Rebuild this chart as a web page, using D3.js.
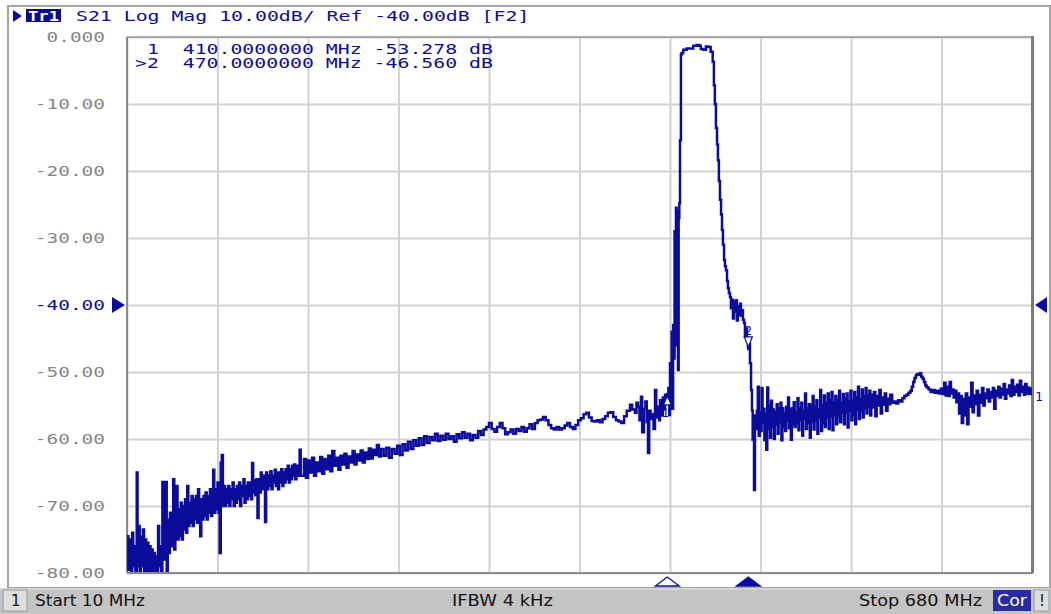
<!DOCTYPE html>
<html>
<head>
<meta charset="utf-8">
<title>S21 Log Mag</title>
<script src="https://d3js.org/d3.v7.min.js"></script>
<style>
  body { margin: 0; background: #fff; }
  svg { display: block; }
</style>
</head>
<body>
<script>
// analyzer screen: S21 sweep 10..680 MHz, values
const startMHz = 10;
const stopMHz = 680;
const xDivisions = [10, 77, 144, 211, 278, 345, 412, 479, 546, 613, 680];
const yTicks = [0, -10, -20, -30, -40, -50, -60, -70, -80];
const yTickLabels = ['0.000', '-10.00', '-20.00', '-30.00', '-40.00', '-50.00', '-60.00', '-70.00', '-80.00'];
const refLevel = -40;
const headerText = 'S21 Log Mag 10.00dB/ Ref -40.00dB [F2]';
const statusTexts = ['Start 10 MHz', 'IFBW 4 kHz', 'Stop 680 MHz'];

const markerIds = [1, 2];
const markerMHz = [410, 470];
const markerDb = [-53.278, -46.560];
const activeMarker = 2;

// [MHz, dB]
const sweepLow = [
  [10,-74.5],[11,-79.5],[12,-75],[13,-80.5],[13.8,-74],[14.6,-79],[15.4,-76],[16.2,-80.5],[17.2,-65],[17.8,-79],
  [18.6,-73],[19.4,-80.5],[20.2,-74.5],[21,-79],[21.8,-73.5],[22.6,-80.5],[23.4,-75],[24.2,-80.5],[25,-75.5],[25.8,-80.5],
  [26.6,-76],[27.4,-80.5],[28.2,-76.5],[29,-80.5],[29.8,-77],[30.6,-80.5],[31.4,-77.5],[32.2,-80.5],[33,-73],[33.8,-79],
  [34.6,-76],[35.4,-80.5],[36.2,-66.4],[37,-78],[37.8,-74],[38.6,-66.4],[39.4,-80.5],[40.2,-72],[41,-77],[41.8,-71],
  [42.6,-76],[43.4,-72],[44.2,-66],[45,-76.5],[45.8,-71],[46.6,-67],[47.4,-75],[48.2,-70.5],[49,-74.5],[49.8,-69.5],
  [50.6,-75],[51.4,-70],[52.2,-73.5],[53,-69],[53.8,-74],[54.6,-67],[55.4,-73],[56.2,-69.5],[57,-72.5],[57.8,-68.5],
  [58.6,-73],[59.4,-69],[60.2,-72],[61,-68.5],[61.8,-72.5],[62.6,-67.5],[63.4,-71.5],[64.2,-74.5],[65,-69],[65.8,-72],
  [66.6,-68.5],[67.4,-71.5],[68.2,-68],[69,-72],[69.8,-68.5],[70.6,-71],[71.4,-67.5],[72.2,-71.5],[73,-68],[73.8,-64.6],
  [74.6,-71],[75.4,-67.5],[76.2,-70.5],[77,-66.5],[77.8,-71],[78.6,-77],[79.4,-63.5],[80.2,-62.4],[81,-70],[81.8,-67],
  [82.6,-70],[83.4,-67.5],[84.2,-69.5],[85,-67],[85.8,-70],[86.6,-67.5],[87.4,-69],[88.2,-66.5],[89,-70],[89.8,-67.5],
  [90.6,-69.5],[91.4,-67],[92.2,-69],[93,-66.5],[93.8,-70],[94.6,-67],[95.4,-68.5],[96.2,-66],[97,-69.5],[97.8,-67],
  [98.6,-69],[99.4,-66.5],[100.2,-68.5],[101,-66.5],[101.8,-69],[102.6,-63.6],[103.4,-68],[104.2,-66.2],[105,-68.4],[105.8,-66],
  [106.6,-71.8],[107.4,-66],[108.2,-68],[109,-65],[109.8,-67.5],[110.6,-65.5],[111.4,-67],[112.2,-72.4],[113,-65],[113.8,-67.5],
  [114.6,-65.5],[115.4,-67],[116.2,-64.8],[117,-67.5],[117.8,-65.5],[118.6,-66.5],[119.4,-64.6],[120.2,-67],[121,-65],[121.8,-67.5],
  [122.6,-65],[123.4,-66.5],[124.2,-64.5],[125,-67],[125.8,-65],[126.6,-66.5],[127.4,-64.5],[128.2,-66],[129,-64],[129.8,-66.5],
  [130.6,-64.5],[131.4,-66],[132.2,-64],[133,-65.5],[133.8,-63.8],[134.6,-66],[135.4,-64],[136.2,-65.5],[137,-64],[137.8,-61.6],
  [138.6,-65.5]
];

const sweepMid = [
  [139.5,-65.5],[141,-63],[142.5,-65.8],[144,-63.2],[145.5,-65],[147,-62.8],[148.5,-65.5],[150,-63.5],[151.5,-64.8],[153,-62.7],
  [154.5,-65.2],[156,-63],[157.5,-64.5],[159,-62.5],[160.5,-64.8],[162,-61.8],[163.5,-64],[165,-62.8],[166.5,-64.6],[168,-62.5],
  [169.5,-63.8],[171,-62.2],[172.5,-64.3],[174,-62.6],[175.5,-63.5],[177,-61.8],[178.5,-63.8],[180,-62.3],[181.5,-63.2],[183,-61.7],
  [184.5,-63.5],[186,-62],[187.5,-63],[189,-61.4],[190.5,-62.9],[192,-61.6],[193.5,-62.4],[195,-60.9],[196.5,-62.6],[198,-61.5],
  [200,-62.5],[202,-61.3],[204,-62.8],[206,-61.5],[208,-62.2],[210,-61],[212,-62.4],[214,-60.8],[216,-61.7],[218,-60.4],
  [220,-61.5],[222,-60.2],[224,-61],[226,-59.9],[228,-60.9],[230,-59.6],[232,-60.6],[234,-59.7],[236,-60.2],[238,-59.2],
  [240,-60.3],[242,-59.5],[244,-60.1],[246,-59.2],[248,-60],[250,-59.6],[252,-60.4],[254,-59.3],[256,-59.9],[258,-59],
  [260,-59.8],[262,-59.2],[264,-60.2],[266,-59.4],[268,-59.8],[270,-58.8],[272,-59.4],[274,-58.6],[276,-58.2],[278,-57.6],
  [280,-58.5],[282,-58.9],[284,-58.2],[286,-57.6],[288,-58.4],[290,-59.3],[292,-59],[294,-58.6],[296,-59.2],[298,-58.5],
  [300,-58.8],[302,-58.2],[304,-58.9],[306,-58.4],[308,-57.8],[310,-58.5],[312,-57.6],[314,-57.2],[316,-57.1],[318,-56.7],
  [320,-57.2],[322,-57.9],[324,-58.4],[326,-58.6],[328,-58.2],[330,-58.6],[332,-58.4],[334,-58],[336,-57.6],[338,-58.2],
  [340,-58.5],[342,-57.9],[344,-57.2],[346,-56.9],[348,-56.3],[350,-56.1],[352,-56.8],[354,-57.3],[356,-57.4],[358,-57.2],
  [360,-57.5],[362,-57],[364,-56.6],[366,-56.1],[368,-56],[370,-56.7],[372,-57.2],[374,-57.4],[376,-57.6],[378,-56.6],
  [380,-55.8],[382.4,-54.9],[384,-55.6],[386,-56.1],[387.2,-54.6],[388.3,-55.2],[389.4,-57.2],[390.5,-53.7],[391.4,-59],[392.7,-55.5],
  [393.8,-54.4],[394.8,-57.5],[395.7,-62.1],[396.6,-55.8],[397.6,-57],[398.7,-56.3],[399.8,-58.5],[400.9,-52.7],[401.8,-56.8],[403.1,-55.2],
  [404,-57.2],[404.6,-54.2],[405.6,-56.5],[406.7,-53.8],[407.5,-55.6],[408.3,-53.4],[409.2,-54.6],[410,-53.3],[410.8,-52.4],[411.5,-56.4]
];

const sweepPass = [
  [412,-48.7],[412.5,-52],[413.2,-44],[413.8,-55.5],[414.3,-43],[414.9,-48],[415.4,-29],[415.9,-46],[416.4,-25.5],[416.9,-44],
  [417.4,-26],[417.9,-49.7],[418.4,-27],[418.9,-24.8],[419.4,-15.4],[420.1,-2.6],[420.6,-2.4],[421.8,-1.9],[424.3,-1.7],[426.8,-1.7],
  [429.2,-1.3],[431.7,-1.2],[433.5,-1.3],[434.8,-1.8],[436.6,-1.9],[438.6,-1.4],[440.3,-1.5],[442.1,-2.2],[443.6,-3.7],[444.5,-7.2],
  [445.2,-10],[446,-13.6],[446.8,-16],[447.5,-18.4],[448.2,-21.5],[449,-24.3],[449.8,-26.5],[450.5,-28.8],[451.2,-31],[452,-33.3],
  [452.7,-34.2],[453.4,-34.8],[454.2,-36.4],[454.9,-37.5],[455.6,-38.2],[456.4,-38.8],[457.1,-40.5],[457.8,-39.2],[458.6,-42],[459.3,-39.5],
  [460,-41],[460.8,-39.3],[461.5,-42.3],[462.3,-40.2],[463,-41.5],[463.8,-39.8],[464.5,-41.6],[465.2,-40.8],[466,-42.2],[466.8,-42.7],
  [467.5,-44.8],[468.2,-43.5],[469,-45.2],[469.7,-46.3],[470,-46.56],[470.5,-45.8],[471.2,-48.7],[472,-52.7],[472.7,-55.7],[473.2,-60.1],
  [473.6,-57.2],[474.2,-67.6],[474.9,-56.5]
];

const sweepHigh = [
  [475.6,-58.5],[476.3,-55.8],[477,-52.2],[477.7,-59.5],[478.4,-56],[479.1,-58.8],[479.8,-52.4],[480.5,-57.5],[481.2,-55.5],[481.9,-60.2],
  [482.6,-56.2],[483.3,-61.6],[484,-52.3],[484.7,-58.5],[485.4,-55],[486.1,-59.8],[486.8,-54.3],[487.5,-58.2],[488.2,-55.6],[488.9,-60],
  [489.6,-56],[490.3,-57.8],[491,-54.8],[491.7,-59.2],[492.4,-55.5],[493.1,-57.5],[493.8,-54.6],[494.5,-60.2],[495.2,-55.4],[495.9,-58.2],
  [496.6,-56.2],[497.3,-58.8],[498,-55.2],[498.7,-57.3],[499.4,-53.8],[500.1,-58.4],[500.8,-55.6],[501.5,-60.1],[502.2,-55.4],[502.9,-57.8],
  [503.6,-54.5],[504.3,-58.2],[505,-56],[505.7,-57.6],[506.4,-53.9],[507.1,-58.7],[507.8,-55.5],[508.5,-57.2],[509.2,-54.6],[509.9,-59.5],
  [510.6,-55.8],[511.3,-57],[512,-53.2],[512.7,-58.5],[513.4,-55.4],[514.1,-57.6],[514.8,-54.8],[515.5,-59.8],[516.2,-55],[516.9,-57.4],
  [517.6,-53.6],[518.3,-58.6],[519,-55.2],[519.7,-57.2],[520.4,-54.2],[521.1,-59.2],[521.8,-55.6],[522.5,-56.8],[523.2,-52.7],[523.9,-58.8],
  [524.6,-55],[525.3,-57.6],[526,-53.5],[526.7,-58.2],[527.4,-54.6],[528.1,-56.8],[528.8,-53.2],[529.5,-58.5],[530.2,-54.2],[530.9,-56.6],
  [531.6,-53],[532.3,-58.7],[533,-54.5],[533.7,-56.3],[534.4,-53.6],[535.1,-57.8],[535.8,-54.2],[536.5,-56.8],[537.2,-52.8],[537.9,-57.5],
  [538.6,-54.6],[539.3,-56.2],[540,-53.3],[540.7,-57.8],[541.4,-54],[542.1,-56],[542.8,-53.2],[543.5,-58.3],[544.2,-54.4],[544.9,-55.8],
  [545.6,-52.8],[546.3,-57.2],[547,-54.2],[547.7,-56.4],[548.4,-53],[549.1,-57.8],[549.8,-53.8],[550.5,-55.6],[551.2,-52.2],[551.9,-57],
  [552.6,-54],[553.3,-55.8],[554,-52.6],[554.7,-56.8],[555.4,-53.6],[556.1,-55.4],[556.8,-52.4],[557.5,-56.2],[558.2,-53.5],[558.9,-55.2],
  [559.6,-52.8],[560.3,-56.5],[561,-53.4],[562,-55.3],[563,-53],[564,-56.6],[565,-53.6],[566,-55],[567,-52.7],[568,-56.2],
  [569,-53.8],[570,-54.9],[571,-53.2],[572,-55.8],[573,-54],[574,-54.8],[575,-53.4],[576.5,-54.6],[578,-54.4],[579.5,-54.7],
  [581,-54.2],[582.5,-54.4],[584,-53.9],[585.5,-53.6],[587,-53.4],[588.5,-53.1],[590,-52.8],[591,-52.2],[592,-51.5],[593,-50.9],
  [594,-50.5],[595,-50.3],[596,-50.4],[597,-50.2],[598,-50.7],[599,-51],[600,-51.5],[601,-52],[602,-52.3],[603.5,-52.6],
  [605,-53],[606.5,-52.7],[608,-53.1],[609.5,-52.8],[611,-53.2],[612.5,-52.5],[614,-53.3],[615,-51.6],[616,-53.5],[617,-52.2],
  [618,-53.6],[619,-51.5],[620,-53.2],[621,-52.6],[622,-53.8],[623,-52.8],[624,-54.5],[625,-53.2],[626,-56.2],[627,-53.6],
  [628,-57.6],[629,-54],[630,-56.5],[631,-53.2],[632,-57.8],[633,-53.8],[634,-55.2],[635,-51.6],[636,-56],[637,-53.5],
  [638,-54.8],[639,-52.8],[640,-56.5],[641,-53.4],[642,-54.6],[643,-52.4],[644,-55],[645,-53.2],[646,-53.9],[647,-52.6],
  [648,-54.4],[649,-53],[650,-53.8],[651,-52.4],[652,-55.5],[653,-52.8],[654,-53.6],[655,-52.2],[656,-53.8],[657,-52.5],
  [658,-53.4],[659,-51.8],[660,-54],[661,-52.6],[662,-53.2],[663,-52],[664,-53.6],[665,-51.2],[666,-53.4],[667,-52.2],
  [668,-53],[669,-51.9],[670,-53.5],[671,-51.3],[672,-53],[673,-52.2],[674,-53.4],[675,-51.8],[676,-53.2],[677,-52.3],
  [678,-53.3],[679,-52.5],[680,-52.8]
];

const W = 1051, H = 614;
const plot = { left: 127, top: 37, right: 1032, bottom: 573 };
const charW = 11.93;
const mono = "'DejaVu Sans Mono', 'Liberation Mono', monospace";
const sans = "'DejaVu Sans', 'Liberation Sans', sans-serif";
const blue = '#0c0c9a';

const svg = d3.select('body').append('svg')
    .attr('width', W)
    .attr('height', H);

const x = d3.scaleLinear().domain([startMHz, stopMHz]).range([plot.left, plot.right]);
const y = d3.scaleLinear().domain([-80, 0]).range([plot.bottom, plot.top]);

// outer window frame
svg.append('rect')
    .attr('x', 8).attr('y', 6)
    .attr('width', 1042).attr('height', 582)
    .attr('fill', 'none')
    .attr('stroke', '#a4a4a4')
    .attr('stroke-width', 2);

// vertical grid
svg.append('g')
    .attr('transform', `translate(0,${plot.bottom})`)
    .call(d3.axisBottom(x).tickValues(xDivisions).tickSize(-(plot.bottom - plot.top)).tickFormat(''))
    .call(g => g.select('.domain').remove())
    .call(g => g.selectAll('line').attr('stroke', '#d2d2d2').attr('stroke-width', 2));

// horizontal grid + dB labels
svg.append('g')
    .attr('transform', `translate(${plot.left},0)`)
    .call(d3.axisLeft(y).tickValues(yTicks).tickSize(-(plot.right - plot.left)).tickPadding(22)
        .tickFormat((d, i) => yTickLabels[i]))
    .call(g => g.select('.domain').remove())
    .call(g => g.selectAll('line').attr('stroke', '#d2d2d2').attr('stroke-width', 2))
    .call(g => g.selectAll('text')
        .attr('font-family', mono)
        .attr('font-size', 14)
        .attr('fill', d => d === refLevel ? blue : '#858585')
        .attr('textLength', (d, i) => yTickLabels[i].length * 11.7)
        .attr('lengthAdjust', 'spacingAndGlyphs'));

// plot border
const border = svg.append('g').attr('fill', 'none');
border.append('line').attr('x1', plot.left).attr('x2', plot.right).attr('y1', plot.top).attr('y2', plot.top)
    .attr('stroke', '#a8a8a8').attr('stroke-width', 2);
border.append('line').attr('x1', plot.left).attr('x2', plot.left).attr('y1', plot.top).attr('y2', plot.bottom)
    .attr('stroke', '#8a8a8a').attr('stroke-width', 2);
border.append('line').attr('x1', plot.left).attr('x2', plot.right + 1).attr('y1', plot.bottom).attr('y2', plot.bottom)
    .attr('stroke', '#8a8a8a').attr('stroke-width', 2);
border.append('line').attr('x1', plot.right + 0.5).attr('x2', plot.right + 0.5).attr('y1', plot.top - 1).attr('y2', plot.bottom)
    .attr('stroke', '#7a7a7a').attr('stroke-width', 3);

// trace
svg.append('clipPath').attr('id', 'plotClip')
    .append('rect')
    .attr('x', plot.left).attr('y', plot.top)
    .attr('width', plot.right - plot.left).attr('height', plot.bottom - plot.top - 1);

const trace = sweepLow.concat(sweepMid, sweepPass, sweepHigh);
const line = d3.line()
    .x(d => x(d[0]))
    .y(d => y(d[1]))
    .curve(d3.curveStepAfter);

svg.append('path')
    .datum(trace)
    .attr('clip-path', 'url(#plotClip)')
    .attr('d', line)
    .attr('fill', 'none')
    .attr('stroke', blue)
    .attr('stroke-width', 2.5);

// markers on the trace
markerIds.forEach((id, i) => {
    const mx = x(markerMHz[i]);
    const my = y(markerDb[i]);
    const g = svg.append('g').attr('stroke', blue).attr('fill', '#fff').attr('stroke-width', 1.2);
    if (id === activeMarker) {
        g.append('path').attr('d', `M${mx - 4},${my - 12} L${mx + 4},${my - 12} L${mx},${my - 2} Z`);
        g.append('text').attr('x', mx).attr('y', my - 14).attr('text-anchor', 'middle')
            .attr('font-family', mono).attr('font-size', 12).attr('stroke', 'none').attr('fill', blue).text(id);
    } else {
        g.append('path').attr('d', `M${mx},${my + 2} L${mx - 4},${my + 11} L${mx + 4},${my + 11} Z`);
        g.append('text').attr('x', mx - 2).attr('y', my + 23).attr('text-anchor', 'middle')
            .attr('font-family', mono).attr('font-size', 12).attr('stroke', 'none').attr('fill', blue).text(id);
    }
    // indicator under the grid
    svg.append('path')
        .attr('d', `M${mx - 12},${plot.bottom + 13} L${mx + 12},${plot.bottom + 13} L${mx},${plot.bottom + 4} Z`)
        .attr('fill', id === activeMarker ? blue : '#fff')
        .attr('stroke', blue)
        .attr('stroke-width', 1.3);
});

// trace number at the right end
const last = trace[trace.length - 1];
svg.append('text')
    .attr('x', plot.right + 3).attr('y', y(last[1]) + 10)
    .attr('font-family', mono).attr('font-size', 13).attr('fill', blue)
    .text('1');

// reference level arrows
const ry = y(refLevel);
svg.append('path').attr('d', `M${plot.left - 15},${ry - 8} L${plot.left - 2},${ry} L${plot.left - 15},${ry + 8} Z`).attr('fill', blue);
svg.append('path').attr('d', `M${plot.right + 15},${ry - 8} L${plot.right + 3},${ry} L${plot.right + 15},${ry + 8} Z`).attr('fill', blue);

// header
svg.append('path').attr('d', 'M13,10 L22,16 L13,22 Z').attr('fill', blue);
svg.append('rect').attr('x', 26).attr('y', 9).attr('width', 35).attr('height', 13).attr('fill', '#0a0a86');
svg.append('text')
    .attr('x', 28).attr('y', 21)
    .attr('font-family', mono).attr('font-size', 14).attr('font-weight', 'bold').attr('fill', '#fff')
    .attr('textLength', 31).attr('lengthAdjust', 'spacingAndGlyphs')
    .text('Tr1');
svg.append('text')
    .attr('x', 76).attr('y', 21)
    .attr('font-family', mono).attr('font-size', 14).attr('fill', blue)
    .attr('textLength', headerText.length * charW).attr('lengthAdjust', 'spacingAndGlyphs')
    .text(headerText);

// marker readout
markerIds.forEach((id, i) => {
    const s = `${id === activeMarker ? '>' : ' '}${id}  ${markerMHz[i].toFixed(7)} MHz ${markerDb[i].toFixed(3)} dB`;
    svg.append('text')
        .attr('x', 135).attr('y', 54 + i * 14)
        .attr('font-family', mono).attr('font-size', 14).attr('fill', blue)
        .style('white-space', 'pre')
        .attr('textLength', s.length * charW).attr('lengthAdjust', 'spacingAndGlyphs')
        .text(s);
});

// status bar
const bar = svg.append('g');
bar.append('rect').attr('x', 0).attr('y', 588).attr('width', W).attr('height', H - 588).attr('fill', '#c4c4c4');
bar.append('line').attr('x1', 0).attr('x2', W).attr('y1', 589).attr('y2', 589).attr('stroke', '#e6e6e6').attr('stroke-width', 1);
bar.append('rect').attr('x', 3).attr('y', 590).attr('width', 24).attr('height', 21)
    .attr('fill', '#dedede').attr('stroke', '#9a9a9a');
bar.append('text').attr('x', 11).attr('y', 606).attr('font-family', sans).attr('font-size', 15).attr('fill', '#111').text('1');

const statusX = [35, 452, 859];
const statusLen = [110, 101, 123];
statusTexts.forEach((t, i) => {
    bar.append('text')
        .attr('x', statusX[i]).attr('y', 606)
        .attr('font-family', sans).attr('font-size', 15).attr('fill', '#111')
        .attr('textLength', statusLen[i]).attr('lengthAdjust', 'spacingAndGlyphs')
        .text(t);
});
bar.append('rect').attr('x', 993).attr('y', 590).attr('width', 38).attr('height', 21).attr('fill', '#2a2aa6');
bar.append('text').attr('x', 997).attr('y', 606).attr('font-family', sans).attr('font-size', 15).attr('fill', '#fff')
    .attr('textLength', 30).attr('lengthAdjust', 'spacingAndGlyphs').text('Cor');
bar.append('rect').attr('x', 1034).attr('y', 590).attr('width', 15).attr('height', 21)
    .attr('fill', '#dedede').attr('stroke', '#9a9a9a');
bar.append('text').attr('x', 1039).attr('y', 606).attr('font-family', sans).attr('font-size', 15).attr('fill', '#111').text('!');
</script>
</body>
</html>
